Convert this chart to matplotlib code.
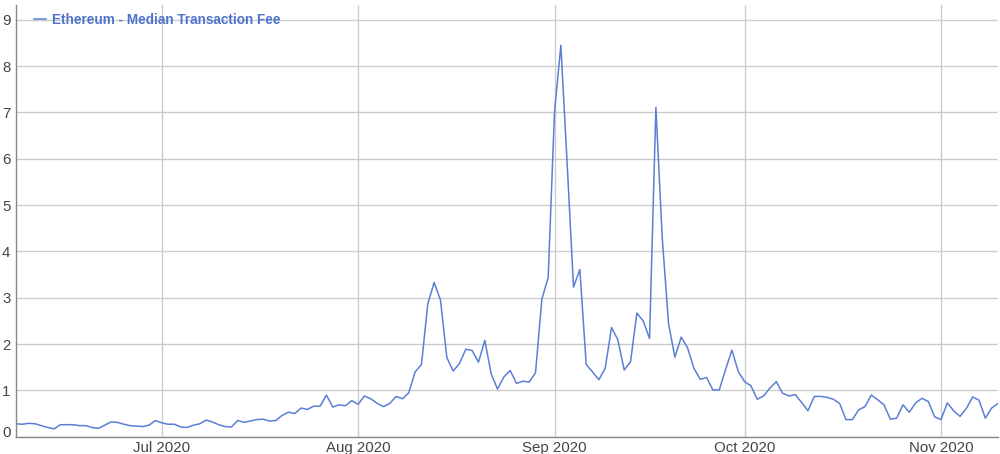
import datetime as dt

import matplotlib as mpl
import matplotlib.pyplot as plt
import matplotlib.dates as mdates
import matplotlib.transforms as mtransforms

mpl.rc("figure", facecolor="white")
plt.rcParams['font.family'] = ['Liberation Sans', 'DejaVu Sans']

# daily median fee, Jun 8 2020 .. Nov 10 2020
start = dt.date(2020, 6, 8)
fee_jun = [0.28, 0.27, 0.29, 0.28, 0.24, 0.20, 0.17, 0.26, 0.26, 0.26, 0.24,
           0.24, 0.20, 0.18, 0.25, 0.32, 0.31, 0.27, 0.24, 0.23, 0.22, 0.25, 0.35]
fee_jul = [0.30, 0.27, 0.27, 0.21, 0.20, 0.25, 0.28, 0.36, 0.32, 0.26, 0.22,
           0.21, 0.35, 0.31, 0.34, 0.37, 0.38, 0.34, 0.35, 0.46, 0.53, 0.50,
           0.62, 0.59, 0.66, 0.66, 0.90, 0.64, 0.69, 0.67, 0.78]
fee_aug = [0.70, 0.88, 0.82, 0.72, 0.65, 0.72, 0.87, 0.82, 0.95, 1.40, 1.56,
           2.87, 3.33, 2.95, 1.71, 1.42, 1.58, 1.89, 1.86, 1.61, 2.08, 1.36,
           1.03, 1.29, 1.43, 1.15, 1.20, 1.18, 1.38, 2.97, 3.44]
fee_sep = [7.02, 8.45, 5.88, 3.23, 3.61, 1.56, 1.40, 1.23, 1.48, 2.36, 2.09,
           1.44, 1.62, 2.67, 2.50, 2.12, 7.11, 4.30, 2.44, 1.72, 2.15, 1.92,
           1.48, 1.24, 1.28, 1.01, 1.01, 1.45, 1.87, 1.41]
fee_oct = [1.19, 1.10, 0.81, 0.88, 1.05, 1.19, 0.94, 0.88, 0.91, 0.74, 0.56,
           0.87, 0.87, 0.85, 0.81, 0.72, 0.37, 0.37, 0.58, 0.65, 0.90, 0.80,
           0.69, 0.38, 0.40, 0.69, 0.53, 0.73, 0.83, 0.76, 0.43]
fee_nov = [0.37, 0.73, 0.56, 0.44, 0.61, 0.86, 0.79, 0.40, 0.62, 0.72]

fees = fee_jun + fee_jul + fee_aug + fee_sep + fee_oct + fee_nov
days = [start + dt.timedelta(days=i) for i in range(len(fees))]

month_ticks = [dt.date(2020, m, 1) for m in (7, 8, 9, 10, 11)]
label = 'Ethereum - Median Transaction Fee'

line_color = '#5b7fd3'
grid_color = '#cccccc'
text_color = '#444444'

fig = plt.figure(figsize=(10, 4.54), dpi=100)
ax = fig.add_axes([0.016, 0.038, 0.982, 0.951])

ax.plot(days, fees, color=line_color, linewidth=1.1, label=label)

ax.set_xlim(days[0], days[-1])
ax.set_ylim(0, 9.32)
ax.set_yticks(range(0, 10))
ax.set_xticks(month_ticks)
ax.xaxis.set_major_formatter(mdates.DateFormatter('%b %Y'))

ax.grid(True, color=grid_color, linewidth=1)
ax.set_axisbelow(True)
ax.tick_params(length=0, labelsize=10.8, labelcolor=text_color, pad=4)
ax.tick_params(axis='x', pad=3)

# the zero label sits a little above the baseline, as in the source chart
fig.canvas.draw()
zero_lab = ax.get_yticklabels()[0]
zero_lab.set_transform(zero_lab.get_transform() +
                       mtransforms.ScaledTranslation(0, 5 / 100, fig.dpi_scale_trans))

for side in ('top', 'right'):
    ax.spines[side].set_visible(False)
for side in ('left', 'bottom'):
    ax.spines[side].set_color('#888888')
    ax.spines[side].set_linewidth(1)

leg = ax.legend(loc='upper left', frameon=False, handlelength=0.9,
                handletextpad=0.4, borderaxespad=0.2,
                bbox_to_anchor=(0.01, 1.0),
                prop={'weight': 'bold', 'size': 9.8})
for txt in leg.get_texts():
    txt.set_color('#4f72cc')

fig.savefig('out.png', dpi=100)
